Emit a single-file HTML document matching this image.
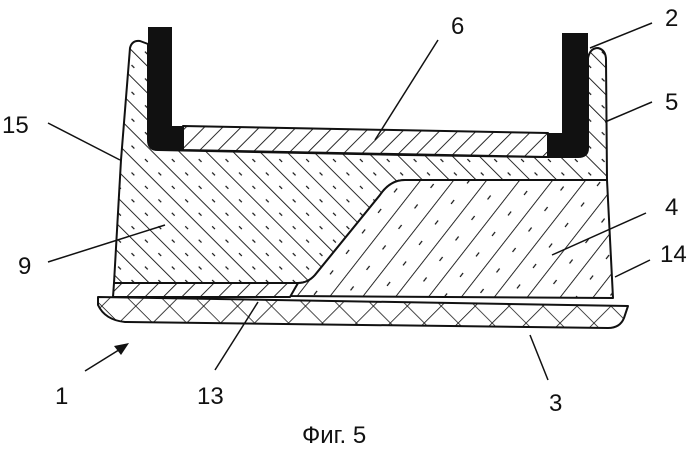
<!DOCTYPE html>
<html><head><meta charset="utf-8"><style>
html,body{margin:0;padding:0;background:#fff;}
svg{display:block;}
text{font-family:"Liberation Sans",sans-serif;font-size:24px;fill:#111;}
</style></head><body>
<svg width="699" height="451" viewBox="0 0 699 451" xmlns="http://www.w3.org/2000/svg">
<defs>
<pattern id="back" width="19" height="19" patternUnits="userSpaceOnUse" patternTransform="rotate(-45)">
<rect width="19" height="19" fill="#fff"/><line x1="0" y1="0" x2="0" y2="19" stroke="#111" stroke-width="1.8"/>
<line x1="9" y1="6" x2="9" y2="10" stroke="#111" stroke-width="1.2"/></pattern>
<pattern id="fwd" width="26" height="26" patternUnits="userSpaceOnUse" patternTransform="rotate(38)">
<rect width="26" height="26" fill="#fff"/><line x1="0" y1="0" x2="0" y2="26" stroke="#111" stroke-width="1.8"/>
<line x1="13" y1="8" x2="13" y2="13" stroke="#111" stroke-width="1.2"/></pattern>
<pattern id="thin" width="13" height="13" patternUnits="userSpaceOnUse" patternTransform="rotate(45)">
<rect width="13" height="13" fill="#fff"/><line x1="0" y1="0" x2="0" y2="13" stroke="#111" stroke-width="1.8"/></pattern>
<pattern id="cross" width="24" height="24" patternUnits="userSpaceOnUse" patternTransform="rotate(45)">
<rect width="24" height="24" fill="#fff"/><line x1="0" y1="0" x2="0" y2="24" stroke="#111" stroke-width="1.6"/><line x1="0" y1="0" x2="24" y2="0" stroke="#111" stroke-width="1.6"/></pattern>
</defs>
<g stroke="#111" stroke-width="2" stroke-linejoin="round">
<path d="M130,48 Q132,40 140,41 L148,44 L148,140 Q148,150 158,150 L405,155 L548,157 L578,157 Q588,157 588,148 L588,58 Q590,48 598,48 Q606,50 606,60 L607,180 L405,180 Q390,180 380,195 L315,275 Q308,283 298,283 L114,283 L121,160 Z" fill="url(#back)"/>
<path d="M405,180 L607,180 L613,298 L290,296 L298,283 Q308,283 315,275 L380,195 Q390,180 405,180 Z" fill="url(#fwd)"/>
<path d="M114,283 L298,283 L290,297 L113,297 Z" fill="url(#thin)"/>
<path d="M183,126 L548,133 L548,157 L183,150 Z" fill="url(#thin)"/>
<path d="M98,297 L628,306 L624,318 Q620,328 608,328 L125,322 Q105,320 98,305 Z" fill="url(#cross)"/>
</g>
<path d="M148,27 L172,27 L172,126 L183,126 L183,150 L158,150 Q148,150 148,140 Z" fill="#111"/>
<path d="M562,33 L588,33 L588,148 Q588,157 578,157 L548,157 L548,133 L562,133 Z" fill="#111"/>
<g stroke="#111" stroke-width="1.5" fill="none">
<line x1="48" y1="123" x2="120" y2="160"/>
<line x1="48" y1="262" x2="165" y2="225"/>
<line x1="438" y1="40" x2="375" y2="140"/>
<line x1="652" y1="23" x2="590" y2="48"/>
<line x1="652" y1="102" x2="605" y2="122"/>
<line x1="646" y1="213" x2="552" y2="255"/>
<line x1="650" y1="260" x2="615" y2="277"/>
<line x1="215" y1="370" x2="258" y2="302"/>
<line x1="548" y1="380" x2="530" y2="335"/>
<line x1="85" y1="371" x2="122" y2="348"/>
</g>
<path d="M129,343 L114,346 L121,355 Z" fill="#111"/>
<text x="2" y="133">15</text>
<text x="18" y="274">9</text>
<text x="451" y="34">6</text>
<text x="665" y="26">2</text>
<text x="665" y="110">5</text>
<text x="665" y="215">4</text>
<text x="660" y="262">14</text>
<text x="55" y="404">1</text>
<text x="197" y="404">13</text>
<text x="549" y="411">3</text>
<text x="302" y="443">Фиг. 5</text>
</svg>
</body></html>
